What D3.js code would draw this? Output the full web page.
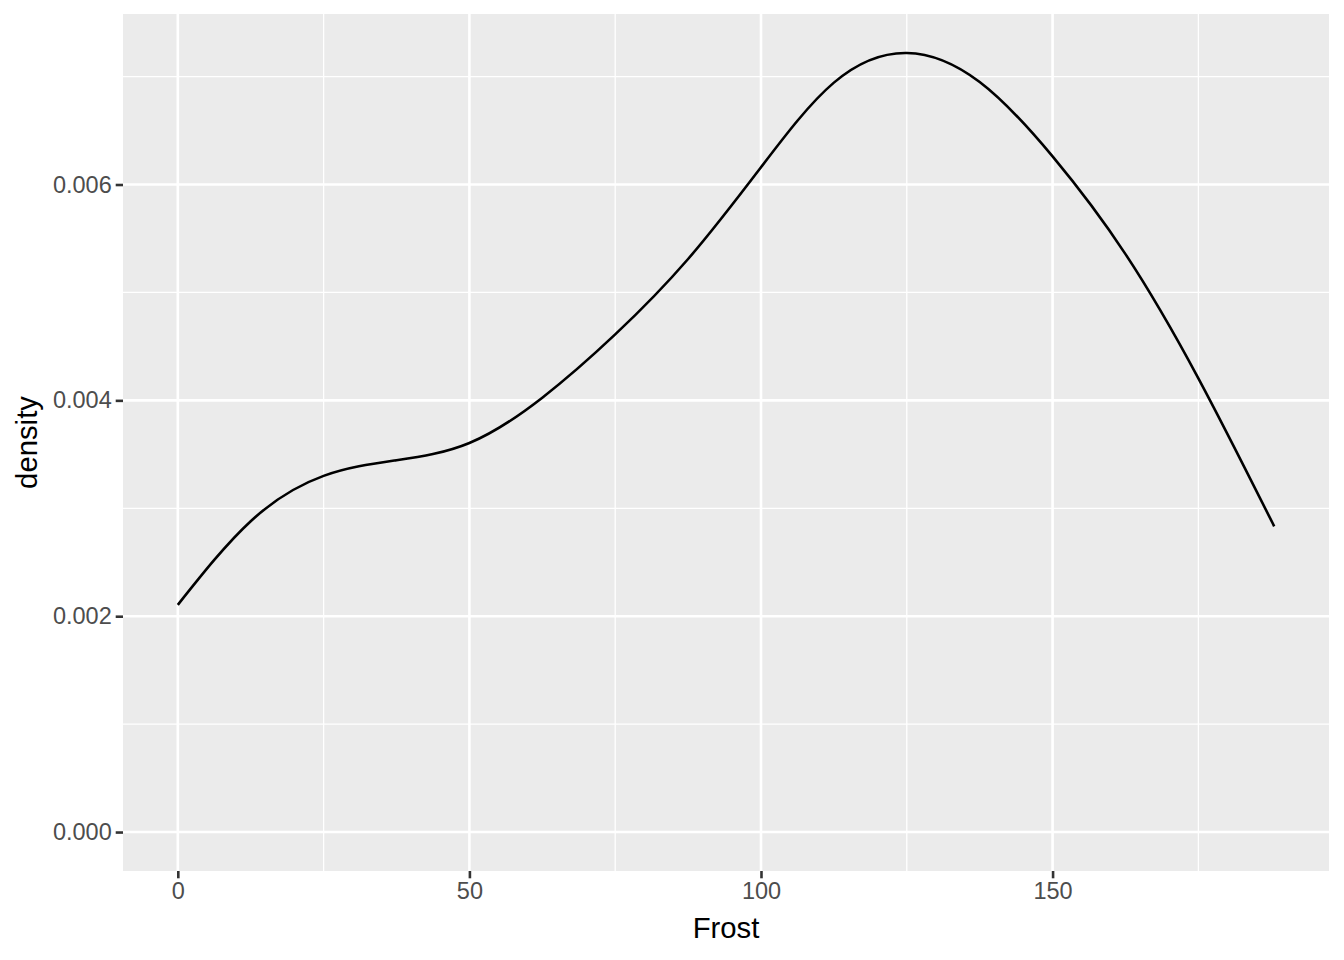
<!DOCTYPE html>
<html>
<head>
<meta charset="utf-8">
<script src="https://cdn.jsdelivr.net/npm/d3@7"></script>
<style>
  body { margin: 0; background: #fff; }
  text { font-family: "Liberation Sans", Arial, sans-serif; }
</style>
</head>
<body>
<script>
// density of Frost
var frost = [0, 12.5, 25, 37.5, 50, 62.5, 75, 87.5, 100, 112.5, 125, 137.5, 150, 162.5, 175, 188];
var density = [0.002105, 0.002880, 0.003300, 0.003445, 0.003605, 0.004025, 0.004611, 0.005310, 0.006160, 0.006944, 0.007219, 0.006950, 0.006260, 0.005355, 0.004204, 0.002833];

var xTicks = [0, 50, 100, 150];
var xMinor = [25, 75, 125, 175];
var yTicks = [0, 0.002, 0.004, 0.006];
var yMinor = [0.001, 0.003, 0.005, 0.007];

var width = 1344, height = 960;
var panel = {left: 123, right: 1329, top: 14, bottom: 871};

var svg = d3.select("body").append("svg")
  .attr("width", width)
  .attr("height", height);

// ggplot style 5% expansion
var xExt = [0, 188];
var xPad = (xExt[1] - xExt[0]) * 0.05;
var yExt = [0, d3.max(density)];
var yPad = (yExt[1] - yExt[0]) * 0.05;

var x = d3.scaleLinear()
  .domain([xExt[0] - xPad, xExt[1] + xPad])
  .range([panel.left, panel.right]);
var y = d3.scaleLinear()
  .domain([yExt[0] - yPad, yExt[1] + yPad])
  .range([panel.bottom, panel.top]);

svg.append("rect")
  .attr("x", panel.left)
  .attr("y", panel.top)
  .attr("width", panel.right - panel.left)
  .attr("height", panel.bottom - panel.top)
  .attr("fill", "#EBEBEB");

var grid = svg.append("g");
// minor grid
grid.selectAll(".xminor").data(xMinor).enter().append("line")
  .attr("x1", function(d) { return x(d); }).attr("x2", function(d) { return x(d); })
  .attr("y1", panel.top).attr("y2", panel.bottom)
  .attr("stroke", "#fff").attr("stroke-width", 1.3);
grid.selectAll(".yminor").data(yMinor).enter().append("line")
  .attr("y1", function(d) { return y(d); }).attr("y2", function(d) { return y(d); })
  .attr("x1", panel.left).attr("x2", panel.right)
  .attr("stroke", "#fff").attr("stroke-width", 1.3);
// major grid
grid.selectAll(".xmajor").data(xTicks).enter().append("line")
  .attr("x1", function(d) { return x(d); }).attr("x2", function(d) { return x(d); })
  .attr("y1", panel.top).attr("y2", panel.bottom)
  .attr("stroke", "#fff").attr("stroke-width", 2.6);
grid.selectAll(".ymajor").data(yTicks).enter().append("line")
  .attr("y1", function(d) { return y(d); }).attr("y2", function(d) { return y(d); })
  .attr("x1", panel.left).attr("x2", panel.right)
  .attr("stroke", "#fff").attr("stroke-width", 2.6);

// density line
var pts = frost.map(function(f, i) { return [f, density[i]]; });
var line = d3.line()
  .x(function(d) { return x(d[0]); })
  .y(function(d) { return y(d[1]); })
  .curve(d3.curveNatural);
svg.append("path")
  .datum(pts)
  .attr("d", line)
  .attr("fill", "none")
  .attr("stroke", "#000")
  .attr("stroke-width", 2.6);

// axes
var xAxis = d3.axisBottom(x).tickValues(xTicks).tickSize(7.3).tickPadding(4).tickFormat(d3.format("d"));
var gx = svg.append("g").attr("transform", "translate(0," + panel.bottom + ")").call(xAxis);
var yAxis = d3.axisLeft(y).tickValues(yTicks).tickSize(7.3).tickPadding(4).tickFormat(d3.format(".3f"));
var gy = svg.append("g").attr("transform", "translate(" + panel.left + ",0)").call(yAxis);

[gx, gy].forEach(function(g) {
  g.select(".domain").remove();
  g.selectAll(".tick line").attr("stroke", "#333").attr("stroke-width", 2.6);
  g.selectAll(".tick text")
    .attr("fill", "#4D4D4D")
    .style("font-size", "23.5px")
    .style("font-family", "'Liberation Sans', Arial, sans-serif");
});

svg.append("text")
  .attr("x", (panel.left + panel.right) / 2)
  .attr("y", 938)
  .attr("text-anchor", "middle")
  .attr("fill", "#000")
  .style("font-size", "29.3px")
  .text("Frost");

svg.append("text")
  .attr("transform", "translate(37," + (panel.top + panel.bottom) / 2 + ") rotate(-90)")
  .attr("text-anchor", "middle")
  .attr("fill", "#000")
  .style("font-size", "29.3px")
  .text("density");
</script>
</body>
</html>
